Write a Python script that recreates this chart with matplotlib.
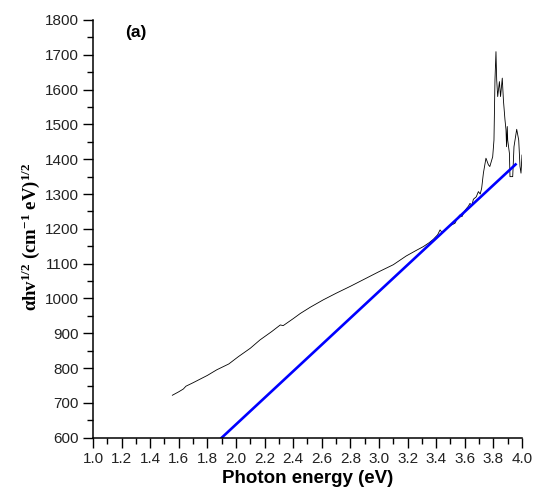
import matplotlib
matplotlib.use("Agg")
import matplotlib.pyplot as plt
from matplotlib.ticker import MultipleLocator, FormatStrFormatter

energy = [1.555, 1.60, 1.632, 1.65, 1.70, 1.80, 1.865, 1.95, 2.017, 2.10, 2.168, 2.25,
          2.31, 2.33, 2.40, 2.45, 2.52, 2.61, 2.70, 2.80, 2.90, 3.00, 3.10, 3.19, 3.26,
          3.31, 3.35, 3.38, 3.41, 3.427, 3.44, 3.47, 3.50, 3.531, 3.55, 3.566, 3.58,
          3.60, 3.613, 3.625, 3.636, 3.65, 3.66, 3.68, 3.695, 3.708, 3.718, 3.73,
          3.748, 3.765, 3.775, 3.795, 3.804, 3.811, 3.818, 3.823, 3.83, 3.842, 3.85,
          3.862, 3.87, 3.881, 3.888, 3.892, 3.897, 3.90, 3.912, 3.916, 3.935, 3.944,
          3.963, 3.977, 3.986, 3.993, 4.0]
ahv = [722, 732, 740, 748, 758, 779, 795, 812, 833, 857, 881, 905,
       924, 922, 942, 957, 975, 996, 1015, 1035, 1056, 1077, 1097, 1122, 1138,
       1149, 1160, 1170, 1183, 1197, 1190, 1200, 1210, 1216, 1232, 1240, 1235,
       1252, 1259, 1265, 1273, 1268, 1285, 1292, 1307, 1300, 1317, 1360,
       1403, 1384, 1379, 1407, 1455, 1628, 1709, 1628, 1580, 1623, 1580,
       1633, 1570, 1513, 1485, 1436, 1494, 1455, 1417, 1350, 1350, 1436,
       1486, 1455, 1379, 1360, 1412]

fit_energy = [1.9, 3.955]
fit_ahv = [600, 1385]

plt.rcParams['mathtext.fontset'] = 'custom'
plt.rcParams['mathtext.rm'] = 'Liberation Serif:bold'
plt.rcParams['mathtext.it'] = 'Liberation Serif:italic'

fig = plt.figure(figsize=(5.35, 4.91), dpi=100)
ax = fig.add_axes([0.1738, 0.1085, 0.9757 - 0.1738, 0.9593 - 0.1085])

ax.plot(energy, ahv, color='black', lw=0.6)
ax.plot(fit_energy, fit_ahv, color='#0000ff', lw=1.9)

ax.set_xlim(1.0, 4.0)
ax.set_ylim(600, 1800)
ax.xaxis.set_major_locator(MultipleLocator(0.2))
ax.xaxis.set_minor_locator(MultipleLocator(0.1))
ax.yaxis.set_major_locator(MultipleLocator(100))
ax.yaxis.set_minor_locator(MultipleLocator(50))
ax.xaxis.set_major_formatter(FormatStrFormatter('%.1f'))

for s in ['top', 'right']:
    ax.spines[s].set_visible(False)
for s in ['left', 'bottom']:
    ax.spines[s].set_linewidth(1.1)

ax.tick_params(which='major', direction='out', length=7, width=1.0, labelsize=11,
               colors='black', pad=3)
ax.tick_params(which='minor', direction='out', length=4, width=1.0)
for lab in ax.get_xticklabels() + ax.get_yticklabels():
    lab.set_fontfamily('Liberation Sans')
    lab.set_color('#222222')

ax.set_xlabel('Photon energy (eV)', fontfamily='Liberation Sans', fontweight='bold',
              fontsize=13.5, labelpad=3)

ax.set_ylabel(r'$\mathregular{\alpha}$hv$^{\mathit{1/2}}$ (cm$^{\mathit{-1}}$ eV)$^{\mathit{1/2}}$',
              fontfamily='Liberation Serif', fontweight='bold', fontsize=13.5)
ax.yaxis.set_label_coords(-0.118, 0.48)

ax.text(0.075, 0.988, '(a)', transform=ax.transAxes, fontfamily='Liberation Sans',
        fontweight='bold', fontsize=12.5, va='top', ha='left')

fig.savefig('out.png', dpi=100)
